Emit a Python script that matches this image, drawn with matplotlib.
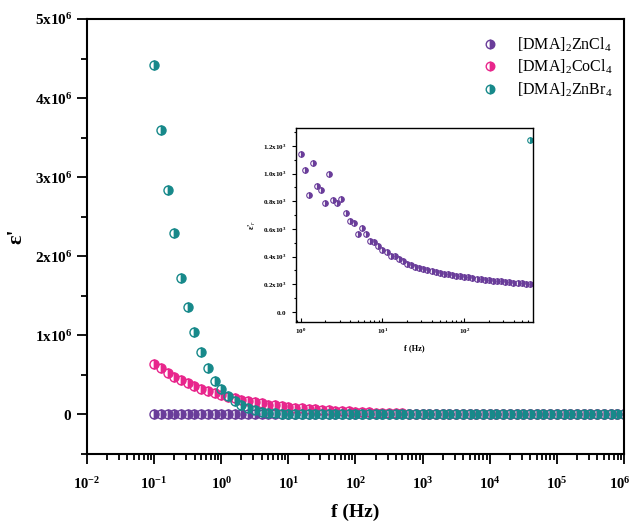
import numpy as np
import matplotlib
matplotlib.use("Agg")
import matplotlib.pyplot as plt
import matplotlib.transforms as mtransforms
from matplotlib.ticker import FuncFormatter, MultipleLocator, LogLocator, NullFormatter

plt.rcParams['font.family'] = ['Liberation Serif', 'DejaVu Serif']
plt.rcParams['mathtext.fontset'] = 'custom'
plt.rcParams['mathtext.rm'] = 'Liberation Serif'
plt.rcParams['mathtext.bf'] = 'Liberation Serif:bold'
plt.rcParams['mathtext.it'] = 'Liberation Serif:italic'

# main plot: 10 points per decade, 0.1 Hz .. 1 MHz
freq_exp = [-1 + k / 10 for k in range(71)]

# eps' of [DMA]2ZnBr4 (x1e6)
znbr4 = [4.42, 3.60, 2.84, 2.30, 1.726, 1.36, 1.048, 0.787, 0.585, 0.425,
         0.324, 0.23, 0.169, 0.118, 0.084, 0.055, 0.034, 0.021, 0.013, 0.009,
         0.007, 0.006, 0.005, 0.004, 0.0035, 0.003, 0.0028, 0.0025, 0.0023, 0.002,
         0.0019, 0.0018, 0.0017, 0.0016, 0.0015, 0.0014, 0.0013, 0.0012, 0.0012, 0.0011,
         0.0011, 0.001, 0.001, 0.001, 0.0009, 0.0009, 0.0009, 0.0008, 0.0008, 0.0008,
         0.0008, 0.0007, 0.0007, 0.0007, 0.0007, 0.0007, 0.0006, 0.0006, 0.0006, 0.0006,
         0.0006, 0.0006, 0.0005, 0.0005, 0.0005, 0.0005, 0.0005, 0.0005, 0.0005, 0.0005,
         0.0005]
# eps' of [DMA]2CoCl4 (x1e6)
cocl4 = [0.64, 0.59, 0.526, 0.476, 0.434, 0.392, 0.357, 0.324, 0.295, 0.265,
         0.244, 0.223, 0.202, 0.186, 0.169, 0.152, 0.139, 0.122, 0.114, 0.101,
         0.093, 0.084, 0.076, 0.068, 0.063, 0.058, 0.052, 0.047, 0.042, 0.038,
         0.034, 0.030, 0.027, 0.024, 0.021, 0.018, 0.016, 0.014, 0.012, 0.010,
         0.009, 0.008, 0.007, 0.006, 0.005, 0.0045, 0.004, 0.0036, 0.0033, 0.003,
         0.0028, 0.0026, 0.0024, 0.0022, 0.002, 0.0019, 0.0018, 0.0017, 0.0016, 0.0015,
         0.0014, 0.0014, 0.0013, 0.0013, 0.0012, 0.0012, 0.0011, 0.0011, 0.001, 0.001,
         0.001]
# eps' of [DMA]2ZnCl4 (x1e3)
zncl4 = [1.6, 1.55, 1.5, 1.45, 1.4, 1.35, 1.3, 1.25, 1.2, 1.18,
         1.14, 0.85, 0.91, 0.785, 0.81, 0.712, 0.641, 0.605, 0.512, 0.476,
         0.451, 0.402, 0.38, 0.349, 0.327, 0.310, 0.293, 0.280, 0.271, 0.261,
         0.254, 0.246, 0.239, 0.232, 0.224, 0.217, 0.212, 0.207, 0.2, 0.195,
         0.19, 0.185, 0.18, 0.176, 0.172, 0.168, 0.164, 0.16, 0.157, 0.154,
         0.151, 0.148, 0.145, 0.142, 0.14, 0.138, 0.136, 0.134, 0.132, 0.13,
         0.128, 0.126, 0.124, 0.122, 0.12, 0.118, 0.116, 0.114, 0.112, 0.11,
         0.108]

# inset: [DMA]2ZnCl4, 20 points per decade from 1 Hz (x1e3)
inset_exp = [k / 20 for k in range(57)]
inset_zncl4 = [1.141, 1.024, 0.849, 1.078, 0.910, 0.878, 0.785, 1.0, 0.810, 0.790,
               0.815, 0.712, 0.661, 0.641, 0.566, 0.605, 0.566, 0.512, 0.507, 0.476,
               0.451, 0.434, 0.402, 0.402, 0.38, 0.368, 0.349, 0.341, 0.327, 0.317,
               0.310, 0.300, 0.293, 0.288, 0.280, 0.276, 0.271, 0.266, 0.261, 0.256,
               0.254, 0.249, 0.246, 0.241, 0.239, 0.234, 0.232, 0.227, 0.224, 0.222,
               0.217, 0.215, 0.212, 0.210, 0.207, 0.202, 0.2]
inset_teal_exp = [2.8]
inset_teal = [1.244]

c_zn = '#6A3D9A'
c_co = '#E8268C'
c_br = '#17898A'

f = 10 ** np.array(freq_exp)

fig = plt.figure(figsize=(6.33, 5.21), dpi=100)
ax = fig.add_axes([0.1374, 0.1286, 0.8484, 0.8349])

mk = dict(ls='none', marker='o', ms=6.5, mew=1.0, fillstyle='right', markerfacecoloralt='none')
ax.plot(f, np.array(zncl4) * 1e3, color=c_zn, label='[DMA]$_2$ZnCl$_4$', **mk)
ax.plot(f, np.array(cocl4) * 1e6, color=c_co, label='[DMA]$_2$CoCl$_4$', **mk)
ax.plot(f, np.array(znbr4) * 1e6, color=c_br, label='[DMA]$_2$ZnBr$_4$', **mk)

ax.set_xscale('log')
ax.set_xlim(1e-2, 1e6)
ax.set_ylim(-0.5e6, 5e6)
ax.yaxis.set_major_locator(MultipleLocator(1e6))
ax.yaxis.set_minor_locator(MultipleLocator(0.5e6))
ax.xaxis.set_major_locator(LogLocator(base=10, numticks=20))
ax.xaxis.set_minor_locator(LogLocator(base=10, subs=np.arange(2, 10), numticks=100))
ax.xaxis.set_minor_formatter(NullFormatter())
ax.yaxis.set_major_formatter(FuncFormatter(
    lambda v, p: r'$\mathbf{0}$' if abs(v) < 1 else r'$\mathbf{%dx10^{6}}$' % round(v / 1e6)))
ax.xaxis.set_major_formatter(FuncFormatter(
    lambda v, p: r'$\mathbf{10^{%d}}$' % round(np.log10(v))))
ax.tick_params(which='both', direction='out', width=1.3, labelsize=11, top=False, right=False)
ax.tick_params(axis='x', labelsize=10.5, pad=9)
ax.tick_params(which='major', length=7)
ax.tick_params(which='minor', length=4)
for s in ax.spines.values():
    s.set_linewidth(1.5)

ax.set_xlabel('f (Hz)', fontsize=14, fontweight='bold', labelpad=8)
ax.set_ylabel("ε'", fontsize=16, fontweight='bold', labelpad=6)

leg = ax.legend(loc='upper right', bbox_to_anchor=(1.005, 0.995), frameon=False,
                fontsize=11.5, handletextpad=0.7, labelspacing=0.25, markerscale=0.95)

# keep the last x tick label (10^6) inside the figure
fig.canvas.draw()
last = [t for t in ax.get_xticklabels() if t.get_position()[0] >= 1e6 * 0.99]
for t in last:
    t.set_transform(t.get_transform() + mtransforms.ScaledTranslation(-4 / 100, 0, fig.dpi_scale_trans))

# inset
ins = fig.add_axes([0.4676, 0.382, 0.3744, 0.3723])
mk2 = dict(ls='none', marker='o', ms=4, mew=0.8, fillstyle='right', markerfacecoloralt='none')
ins.plot(10 ** np.array(inset_exp), inset_zncl4, color=c_zn, **mk2)
ins.plot(10 ** np.array(inset_teal_exp), inset_teal, color=c_br, **mk2)
ins.set_xscale('log')
ins.set_xlim(0.88, 690)
ins.set_ylim(-0.073, 1.33)
ins.yaxis.set_major_locator(MultipleLocator(0.2))
ins.yaxis.set_minor_locator(MultipleLocator(0.1))
ins.xaxis.set_major_locator(LogLocator(base=10, numticks=10))
ins.xaxis.set_minor_locator(LogLocator(base=10, subs=np.arange(2, 10), numticks=100))
ins.xaxis.set_minor_formatter(NullFormatter())
ins.yaxis.set_major_formatter(FuncFormatter(
    lambda v, p: r'$\mathbf{0.0}$' if abs(v) < 1e-6 else r'$\mathbf{%.1fx10^{3}}$' % v))
ins.xaxis.set_major_formatter(FuncFormatter(
    lambda v, p: r'$\mathbf{10^{%d}}$' % round(np.log10(v))))
ins.tick_params(which='both', labelsize=5, width=0.8, top=False, right=False)
ins.tick_params(axis='y', which='major', direction='out', length=3)
ins.tick_params(axis='y', which='minor', direction='out', length=1.5)
ins.tick_params(axis='x', which='major', direction='in', length=3)
ins.tick_params(axis='x', which='minor', direction='in', length=1.5)
for s in ins.spines.values():
    s.set_linewidth(1.0)
ins.set_xlabel('f (Hz)', fontsize=6, fontweight='bold', labelpad=6)
ins.set_ylabel("ε'$_r$", fontsize=6, fontweight='bold', labelpad=4)

fig.savefig('out.png', dpi=100)
